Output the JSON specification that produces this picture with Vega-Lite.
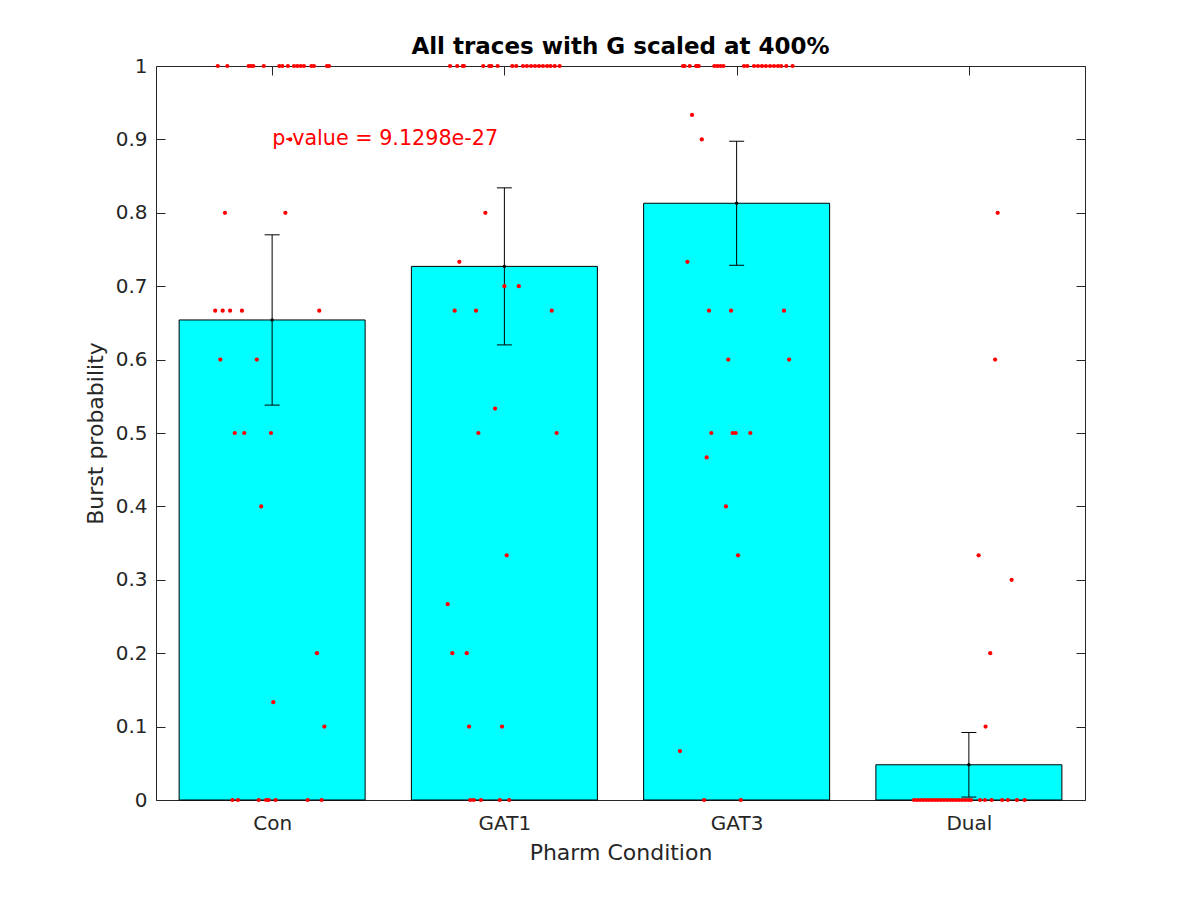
{
  "$schema": "https://vega.github.io/schema/vega-lite/v6.json",
  "autosize": {"type": "none"},
  "padding": {"left": 156, "top": 66, "right": 115, "bottom": 100},
  "width": 929,
  "height": 734,
  "background": "#ffffff",
  "title": {"text": "All traces with G scaled at 400%", "font": "DejaVu Sans", "fontSize": 23, "fontWeight": "bold", "color": "#000000", "anchor": "middle", "frame": "group", "baseline": "alphabetic", "offset": -21},
  "datasets": {
    "bars": [
      {"cond": "Con", "pos": 1, "mean": 0.654, "lo": 0.538, "hi": 0.770},
      {"cond": "GAT1", "pos": 2, "mean": 0.727, "lo": 0.620, "hi": 0.834},
      {"cond": "GAT3", "pos": 3, "mean": 0.813, "lo": 0.7285, "hi": 0.8975},
      {"cond": "Dual", "pos": 4, "mean": 0.048, "lo": 0.004, "hi": 0.092}
    ],
    "dots": [
      {"cond":"Con","pos":0.766,"burst":1},{"cond":"Con","pos":0.807,"burst":1},{"cond":"Con","pos":0.899,"burst":1},{"cond":"Con","pos":0.909,"burst":1},{"cond":"Con","pos":0.919,"burst":1},{"cond":"Con","pos":0.964,"burst":1},{"cond":"Con","pos":1.031,"burst":1},{"cond":"Con","pos":1.044,"burst":1},{"cond":"Con","pos":1.068,"burst":1},{"cond":"Con","pos":1.094,"burst":1},{"cond":"Con","pos":1.108,"burst":1},{"cond":"Con","pos":1.123,"burst":1},{"cond":"Con","pos":1.137,"burst":1},{"cond":"Con","pos":1.169,"burst":1},{"cond":"Con","pos":1.180,"burst":1},{"cond":"Con","pos":1.236,"burst":1},{"cond":"Con","pos":1.245,"burst":1},
      {"cond":"Con","pos":1.078,"burst":0.9},
      {"cond":"Con","pos":0.797,"burst":0.8},{"cond":"Con","pos":1.057,"burst":0.8},
      {"cond":"Con","pos":0.755,"burst":0.6667},{"cond":"Con","pos":0.787,"burst":0.6667},{"cond":"Con","pos":0.819,"burst":0.6667},{"cond":"Con","pos":0.870,"burst":0.6667},{"cond":"Con","pos":1.203,"burst":0.6667},
      {"cond":"Con","pos":0.777,"burst":0.6},{"cond":"Con","pos":0.934,"burst":0.6},
      {"cond":"Con","pos":0.839,"burst":0.5},{"cond":"Con","pos":0.880,"burst":0.5},{"cond":"Con","pos":0.995,"burst":0.5},
      {"cond":"Con","pos":0.953,"burst":0.4},
      {"cond":"Con","pos":1.193,"burst":0.2},
      {"cond":"Con","pos":1.005,"burst":0.1333},
      {"cond":"Con","pos":1.225,"burst":0.1},
      {"cond":"Con","pos":0.829,"burst":0},{"cond":"Con","pos":0.853,"burst":0},{"cond":"Con","pos":0.942,"burst":0},{"cond":"Con","pos":0.974,"burst":0},{"cond":"Con","pos":0.985,"burst":0},{"cond":"Con","pos":1.015,"burst":0},{"cond":"Con","pos":1.153,"burst":0},{"cond":"Con","pos":1.213,"burst":0},
      {"cond":"GAT1","pos":1.766,"burst":1},{"cond":"GAT1","pos":1.797,"burst":1},{"cond":"GAT1","pos":1.821,"burst":1},{"cond":"GAT1","pos":1.826,"burst":1},{"cond":"GAT1","pos":1.909,"burst":1},{"cond":"GAT1","pos":1.935,"burst":1},{"cond":"GAT1","pos":1.944,"burst":1},{"cond":"GAT1","pos":1.971,"burst":1},{"cond":"GAT1","pos":2.034,"burst":1},{"cond":"GAT1","pos":2.051,"burst":1},{"cond":"GAT1","pos":2.080,"burst":1},{"cond":"GAT1","pos":2.097,"burst":1},{"cond":"GAT1","pos":2.115,"burst":1},{"cond":"GAT1","pos":2.132,"burst":1},{"cond":"GAT1","pos":2.149,"burst":1},{"cond":"GAT1","pos":2.166,"burst":1},{"cond":"GAT1","pos":2.184,"burst":1},{"cond":"GAT1","pos":2.199,"burst":1},{"cond":"GAT1","pos":2.217,"burst":1},{"cond":"GAT1","pos":2.238,"burst":1},
      {"cond":"GAT1","pos":1.918,"burst":0.8},
      {"cond":"GAT1","pos":1.806,"burst":0.7333},
      {"cond":"GAT1","pos":2.000,"burst":0.7},{"cond":"GAT1","pos":2.062,"burst":0.7},
      {"cond":"GAT1","pos":1.786,"burst":0.6667},{"cond":"GAT1","pos":1.878,"burst":0.6667},{"cond":"GAT1","pos":2.204,"burst":0.6667},
      {"cond":"GAT1","pos":1.960,"burst":0.5333},
      {"cond":"GAT1","pos":1.888,"burst":0.5},{"cond":"GAT1","pos":2.225,"burst":0.5},
      {"cond":"GAT1","pos":2.010,"burst":0.3333},
      {"cond":"GAT1","pos":1.756,"burst":0.2667},
      {"cond":"GAT1","pos":1.776,"burst":0.2},{"cond":"GAT1","pos":1.838,"burst":0.2},
      {"cond":"GAT1","pos":1.848,"burst":0.1},{"cond":"GAT1","pos":1.990,"burst":0.1},
      {"cond":"GAT1","pos":1.853,"burst":0},{"cond":"GAT1","pos":1.868,"burst":0},{"cond":"GAT1","pos":1.899,"burst":0},{"cond":"GAT1","pos":1.980,"burst":0},{"cond":"GAT1","pos":2.021,"burst":0},
      {"cond":"GAT3","pos":2.769,"burst":1},{"cond":"GAT3","pos":2.776,"burst":1},{"cond":"GAT3","pos":2.798,"burst":1},{"cond":"GAT3","pos":2.825,"burst":1},{"cond":"GAT3","pos":2.831,"burst":1},{"cond":"GAT3","pos":2.837,"burst":1},{"cond":"GAT3","pos":2.904,"burst":1},{"cond":"GAT3","pos":2.917,"burst":1},{"cond":"GAT3","pos":2.930,"burst":1},{"cond":"GAT3","pos":2.943,"burst":1},{"cond":"GAT3","pos":3.032,"burst":1},{"cond":"GAT3","pos":3.046,"burst":1},{"cond":"GAT3","pos":3.075,"burst":1},{"cond":"GAT3","pos":3.092,"burst":1},{"cond":"GAT3","pos":3.109,"burst":1},{"cond":"GAT3","pos":3.126,"burst":1},{"cond":"GAT3","pos":3.144,"burst":1},{"cond":"GAT3","pos":3.161,"burst":1},{"cond":"GAT3","pos":3.178,"burst":1},{"cond":"GAT3","pos":3.192,"burst":1},{"cond":"GAT3","pos":3.214,"burst":1},{"cond":"GAT3","pos":3.241,"burst":1},
      {"cond":"GAT3","pos":2.808,"burst":0.9333},
      {"cond":"GAT3","pos":2.850,"burst":0.9},
      {"cond":"GAT3","pos":2.788,"burst":0.7333},
      {"cond":"GAT3","pos":2.881,"burst":0.6667},{"cond":"GAT3","pos":2.976,"burst":0.6667},{"cond":"GAT3","pos":3.204,"burst":0.6667},
      {"cond":"GAT3","pos":2.964,"burst":0.6},{"cond":"GAT3","pos":3.226,"burst":0.6},
      {"cond":"GAT3","pos":2.891,"burst":0.5},{"cond":"GAT3","pos":2.983,"burst":0.5},{"cond":"GAT3","pos":2.996,"burst":0.5},{"cond":"GAT3","pos":3.059,"burst":0.5},
      {"cond":"GAT3","pos":2.871,"burst":0.4667},
      {"cond":"GAT3","pos":2.954,"burst":0.4},
      {"cond":"GAT3","pos":3.006,"burst":0.3333},
      {"cond":"GAT3","pos":2.756,"burst":0.0667},
      {"cond":"GAT3","pos":2.860,"burst":0},{"cond":"GAT3","pos":3.018,"burst":0},
      {"cond":"Dual","pos":4.124,"burst":0.8},
      {"cond":"Dual","pos":4.113,"burst":0.6},
      {"cond":"Dual","pos":4.042,"burst":0.3333},
      {"cond":"Dual","pos":4.184,"burst":0.3},
      {"cond":"Dual","pos":4.092,"burst":0.2},
      {"cond":"Dual","pos":4.072,"burst":0.1},
      {"cond":"Dual","pos":3.764,"burst":0},{"cond":"Dual","pos":3.777,"burst":0},{"cond":"Dual","pos":3.790,"burst":0},{"cond":"Dual","pos":3.803,"burst":0},{"cond":"Dual","pos":3.816,"burst":0},{"cond":"Dual","pos":3.829,"burst":0},{"cond":"Dual","pos":3.842,"burst":0},{"cond":"Dual","pos":3.855,"burst":0},{"cond":"Dual","pos":3.867,"burst":0},{"cond":"Dual","pos":3.880,"burst":0},{"cond":"Dual","pos":3.893,"burst":0},{"cond":"Dual","pos":3.906,"burst":0},{"cond":"Dual","pos":3.919,"burst":0},{"cond":"Dual","pos":3.932,"burst":0},{"cond":"Dual","pos":3.945,"burst":0},{"cond":"Dual","pos":3.958,"burst":0},{"cond":"Dual","pos":3.971,"burst":0},{"cond":"Dual","pos":3.984,"burst":0},{"cond":"Dual","pos":3.997,"burst":0},{"cond":"Dual","pos":4.009,"burst":0},{"cond":"Dual","pos":4.048,"burst":0},{"cond":"Dual","pos":4.069,"burst":0},{"cond":"Dual","pos":4.098,"burst":0},{"cond":"Dual","pos":4.143,"burst":0},{"cond":"Dual","pos":4.168,"burst":0},{"cond":"Dual","pos":4.207,"burst":0},{"cond":"Dual","pos":4.240,"burst":0}
    ],
    "note": [{"pos": 1, "burst": 0.9, "label": "p-value = 9.1298e-27"}]
  },
  "layer": [
    {
      "data": {"name": "bars"},
      "mark": {"type": "bar", "fill": "#00FFFF", "stroke": "#000000", "strokeWidth": 1, "width": 186},
      "encoding": {
        "x": {"field": "pos", "type": "quantitative", "scale": {"domain": [0.5, 4.5], "nice": false, "zero": false, "padding": 0},
              "axis": {"orient": "bottom", "values": [1, 2, 3, 4], "labelExpr": "['', 'Con', 'GAT1', 'GAT3', 'Dual'][datum.value]", "title": "Pharm Condition", "labelPadding": 22, "titlePadding": 9}},
        "y": {"field": "mean", "type": "quantitative", "scale": {"domain": [0, 1], "nice": false, "zero": false, "padding": 0},
              "axis": {"orient": "left", "values": [0, 0.1, 0.2, 0.3, 0.4, 0.5, 0.6, 0.7, 0.8, 0.9, 1], "format": "~g", "title": "Burst probability", "labelPadding": 18, "titlePadding": 8, "labelFlush": false}}
      }
    },
    {
      "data": {"name": "bars"},
      "mark": {"type": "rule", "color": "#000000", "strokeWidth": 1},
      "encoding": {
        "x": {"field": "pos", "type": "quantitative", "axis": null},
        "y": {"field": "lo", "type": "quantitative", "axis": null},
        "y2": {"field": "hi"}
      }
    },
    {
      "data": {"name": "bars"},
      "mark": {"type": "point", "shape": "M-1,0L1,0", "size": 225, "filled": false, "stroke": "#000000", "strokeWidth": 1, "opacity": 1},
      "encoding": {
        "x": {"field": "pos", "type": "quantitative", "axis": null},
        "y": {"field": "lo", "type": "quantitative", "axis": null}
      }
    },
    {
      "data": {"name": "bars"},
      "mark": {"type": "point", "shape": "M-1,0L1,0", "size": 225, "filled": false, "stroke": "#000000", "strokeWidth": 1, "opacity": 1},
      "encoding": {
        "x": {"field": "pos", "type": "quantitative", "axis": null},
        "y": {"field": "hi", "type": "quantitative", "axis": null}
      }
    },
    {
      "data": {"name": "dots"},
      "mark": {"type": "point", "shape": "circle", "filled": true, "color": "#FF0000", "size": 18, "opacity": 1},
      "encoding": {
        "x": {"field": "pos", "type": "quantitative", "axis": {"orient": "top", "values": [1, 2, 3, 4], "labels": false, "title": null}},
        "y": {"field": "burst", "type": "quantitative", "axis": {"orient": "right", "values": [0, 0.1, 0.2, 0.3, 0.4, 0.5, 0.6, 0.7, 0.8, 0.9, 1], "labels": false, "title": null}}
      }
    },
    {
      "data": {"name": "bars"},
      "mark": {"type": "point", "shape": "circle", "filled": true, "color": "#000000", "size": 12, "opacity": 1},
      "encoding": {
        "x": {"field": "pos", "type": "quantitative", "axis": null},
        "y": {"field": "mean", "type": "quantitative", "axis": null}
      }
    },
    {
      "data": {"name": "note"},
      "mark": {"type": "text", "color": "#FF0000", "font": "DejaVu Sans", "fontSize": 20.7, "align": "left", "baseline": "middle"},
      "encoding": {
        "x": {"field": "pos", "type": "quantitative", "axis": null},
        "y": {"field": "burst", "type": "quantitative", "axis": null},
        "text": {"field": "label"}
      }
    }
  ],
  "resolve": {"axis": {"x": "independent", "y": "independent"}},
  "config": {
    "view": {"stroke": null},
    "axis": {
      "domainColor": "#262626", "tickColor": "#262626", "labelColor": "#262626", "titleColor": "#262626",
      "labelFont": "DejaVu Sans", "titleFont": "DejaVu Sans", "labelFontSize": 20, "titleFontSize": 22,
      "titleFontWeight": "normal", "grid": false, "tickSize": -9, "domainWidth": 1, "tickWidth": 1, "labelOverlap": false
    }
  }
}
